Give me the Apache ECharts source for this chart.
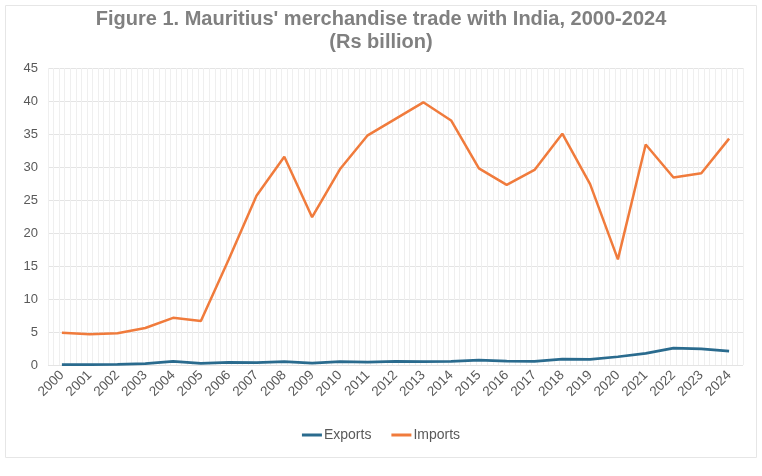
<!DOCTYPE html>
<html><head><meta charset="utf-8">
<script src="https://cdn.jsdelivr.net/npm/echarts@6/dist/echarts.min.js"></script>
<style>html,body{margin:0;padding:0;background:#fff}#c{width:762px;height:476px}</style>
</head><body><div id="c"></div>
<script>
const years = ['2000','2001','2002','2003','2004','2005','2006','2007','2008','2009','2010','2011','2012','2013','2014','2015','2016','2017','2018','2019','2020','2021','2022','2023','2024'];
const exportsData = [0.05,0.05,0.1,0.2,0.55,0.25,0.4,0.35,0.5,0.3,0.5,0.45,0.55,0.5,0.55,0.75,0.6,0.55,0.9,0.85,1.25,1.75,2.55,2.45,2.1];
const importsData = [4.9,4.65,4.8,5.6,7.15,6.65,16.0,25.65,31.55,22.4,29.65,34.8,37.3,39.8,37.05,29.8,27.3,29.55,35.05,27.4,16.0,33.4,28.4,29.05,34.3];
const yTicks = {min:0, max:45, interval:5};
const minorPerCategory = 5;

const chart = echarts.init(document.getElementById('c'), null, {renderer:'canvas'});
chart.setOption({
  animation:false,
  backgroundColor:'#fff',
  title:{
    text:"Figure 1. Mauritius' merchandise trade with India, 2000-2024\n(Rs billion)",
    left:'center', top:3,
    textStyle:{fontFamily:'"Liberation Sans Narrow","Arial Narrow","Liberation Sans",sans-serif', fontSize:20, fontWeight:'bold', color:'#808080', lineHeight:23}
  },
  graphic:[{type:'rect', shape:{x:5.5,y:5.5,width:751,height:452}, style:{fill:null, stroke:'#e6e6e6', lineWidth:1}, silent:true}],
  legend:{
    bottom:29, left:'center', itemWidth:20, itemHeight:3, itemGap:20,
    icon:'rect',
    textStyle:{fontFamily:'"Liberation Sans",Arial,sans-serif', fontSize:14, color:'#595959', padding:[0,0,0,-3]},
    data:['Exports','Imports']
  },
  grid:{left:48, right:19, top:68, bottom:111},
  xAxis:[{
    type:'category', data:years, boundaryGap:true,
    axisLine:{show:false}, axisTick:{show:false},
    axisLabel:{rotate:45, interval:0, fontFamily:'"Liberation Sans",Arial,sans-serif', fontSize:13.5, color:'#595959', margin:8},
    splitLine:{show:false}
  },{
    type:'value', min:0, max:years.length*minorPerCategory, interval:1, position:'bottom',
    axisLine:{show:false}, axisTick:{show:false}, axisLabel:{show:false},
    splitLine:{show:true, lineStyle:{color:'#efefef', width:1}}
  }],
  yAxis:{
    type:'value', min:yTicks.min, max:yTicks.max, interval:yTicks.interval,
    axisLine:{show:false}, axisTick:{show:false},
    axisLabel:{fontFamily:'"Liberation Sans",Arial,sans-serif', fontSize:13, color:'#595959', margin:10},
    splitLine:{lineStyle:{color:'#e4e4e4', width:1}}
  },
  series:[
    {name:'Exports', type:'line', xAxisIndex:0, data:exportsData, symbol:'none', lineStyle:{color:'#2a6b8e', width:2.75}, itemStyle:{color:'#2a6b8e'}},
    {name:'Imports', type:'line', xAxisIndex:0, data:importsData, symbol:'none', lineStyle:{color:'#f07b3c', width:2.5}, itemStyle:{color:'#f07b3c'}}
  ]
});
</script></body></html>
